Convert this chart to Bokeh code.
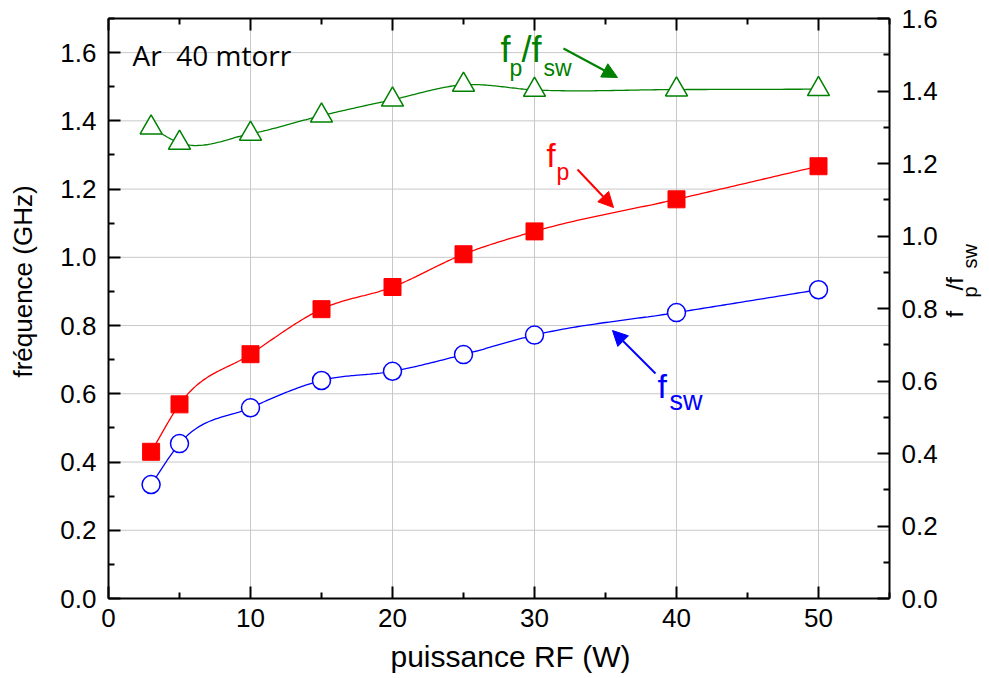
import numpy as np
from math import pi
from bokeh.plotting import figure
from bokeh.models import (Range1d, LinearAxis, FixedTicker, PrintfTickFormatter,
                          CustomJSTickFormatter, Label, Arrow, NormalHead)
from bokeh.embed import file_html
from bokeh.resources import INLINE

# ---- data ----
power = [3, 5, 10, 15, 20, 25, 30, 40, 50]
f_p = [0.430, 0.569, 0.716, 0.848, 0.913, 1.009, 1.076, 1.170, 1.267]
f_sw = [0.334, 0.454, 0.559, 0.639, 0.666, 0.715, 0.772, 0.838, 0.905]
ratio = [1.299, 1.257, 1.282, 1.332, 1.376, 1.417, 1.403, 1.404, 1.405]

x_ticks = [0, 10, 20, 30, 40, 50]
x_minor = [5, 15, 25, 35, 45, 55]
y_ticks = [0.0, 0.2, 0.4, 0.6, 0.8, 1.0, 1.2, 1.4, 1.6]
y_minor = [0.1, 0.3, 0.5, 0.7, 0.9, 1.1, 1.3, 1.5, 1.7]
r_ticks = [0.0, 0.2, 0.4, 0.6, 0.8, 1.0, 1.2, 1.4, 1.6]
r_minor = [0.1, 0.3, 0.5, 0.7, 0.9, 1.1, 1.3, 1.5]

X_MAX, Y_MAX, R_MAX = 55, 1.7, 1.6

x_label = "puissance RF (W)"
y_label = "fréquence (GHz)"
note = "Ar  40 mtorr"

RED, BLUE, GREEN = "#ff0000", "#0000ff", "#008000"
FONT = "Liberation Sans"
GRID = "#c8c8c8"

# ---- layout (pixels) ----
W, H = 985, 674
X0PX, X1PX = 108, 889   # x = 0 and x = X_MAX
Y0PX, Y1PX = 598, 18    # y = 0 and y = Y_MAX
sx = (X1PX - X0PX) / X_MAX
sy = (Y0PX - Y1PX) / Y_MAX
sr = (Y0PX - Y1PX) / R_MAX


def X(px):
    return (px - X0PX) / sx


def Y(py):
    return (Y0PX - py) / sy


def smooth(x, y, n=40):
    """Cubic Hermite curve through the points (tangents from neighbouring secants)."""
    x = np.asarray(x, float)
    y = np.asarray(y, float)
    h = np.diff(x)
    s = np.diff(y) / h
    m = np.empty_like(y)
    m[0], m[-1] = s[0], s[-1]
    m[1:-1] = (s[:-1] * h[1:] + s[1:] * h[:-1]) / (h[:-1] + h[1:])
    xs_all, ys_all = [], []
    for i in range(len(x) - 1):
        t = np.linspace(0, 1, n, endpoint=(i == len(x) - 2))
        h00 = 2 * t ** 3 - 3 * t ** 2 + 1
        h10 = t ** 3 - 2 * t ** 2 + t
        h01 = -2 * t ** 3 + 3 * t ** 2
        h11 = t ** 3 - t ** 2
        xs_all.append(x[i] + t * h[i])
        ys_all.append(h00 * y[i] + h10 * h[i] * m[i] + h01 * y[i + 1] + h11 * h[i] * m[i + 1])
    return np.concatenate(xs_all), np.concatenate(ys_all)


p = figure(width=W, height=H,
           x_range=Range1d(-X0PX / sx, (W - X0PX) / sx),
           y_range=Range1d(-(H - Y0PX) / sy, Y0PX / sy),
           output_backend="svg", toolbar_location=None,
           x_axis_type=None, y_axis_type=None, min_border=0)
p.extra_y_ranges = {"ratio": Range1d(-(H - Y0PX) / sr, Y0PX / sr)}
p.outline_line_color = None
p.background_fill_color = "white"
p.border_fill_color = "white"
p.xgrid.visible = False
p.ygrid.visible = False


def style(ax, size="26px"):
    ax.axis_line_width = 2
    ax.axis_line_color = "black"
    ax.major_tick_line_width = 2
    ax.minor_tick_line_width = 2
    ax.major_tick_in = 12
    ax.major_tick_out = 0
    ax.minor_tick_in = 6
    ax.minor_tick_out = 0
    ax.major_label_text_font = FONT
    ax.major_label_text_font_size = size
    ax.major_label_text_color = "black"


bottom = LinearAxis(ticker=FixedTicker(ticks=x_ticks, minor_ticks=x_minor),
                    fixed_location=0, bounds=(0, X_MAX))
style(bottom)
bottom.major_label_standoff = 10
p.add_layout(bottom, "below")

top = LinearAxis(ticker=FixedTicker(ticks=x_ticks, minor_ticks=x_minor),
                 formatter=CustomJSTickFormatter(code="return ''"),
                 fixed_location=Y_MAX, bounds=(0, X_MAX))
style(top, "8px")
top.major_label_standoff = 0
p.add_layout(top, "above")

left = LinearAxis(ticker=FixedTicker(ticks=y_ticks, minor_ticks=y_minor),
                  formatter=PrintfTickFormatter(format="%.1f"),
                  fixed_location=0, bounds=(0, Y_MAX))
style(left)
left.major_label_standoff = 12
p.add_layout(left, "left")

right = LinearAxis(ticker=FixedTicker(ticks=r_ticks, minor_ticks=r_minor), y_range_name="ratio",
                   formatter=PrintfTickFormatter(format="%.1f"),
                   fixed_location=X_MAX, bounds=(0, R_MAX))
style(right)
right.major_label_standoff = 12
p.add_layout(right, "right")

# grid lines inside the plot area
gx = [t for t in x_ticks if 0 < t < X_MAX]
gy = [t for t in y_ticks if 0 < t < Y_MAX]
p.segment(x0=gx, y0=[0] * len(gx), x1=gx, y1=[Y_MAX] * len(gx),
          line_color=GRID, line_width=1, level="underlay")
p.segment(x0=[0] * len(gy), y0=gy, x1=[X_MAX] * len(gy), y1=gy,
          line_color=GRID, line_width=1, level="underlay")

# curves
xs, ys = smooth(power, f_p)
p.line(xs, ys, line_color=RED, line_width=1.3)
xs, ys = smooth(power, f_sw)
p.line(xs, ys, line_color=BLUE, line_width=1.3)
xs, ys = smooth(power, ratio)
p.line(xs, ys, line_color=GREEN, line_width=1.3, y_range_name="ratio")

# markers
p.scatter(power, f_p, marker="square", size=17, fill_color=RED, line_color=RED)
p.scatter(power, f_sw, marker="circle", size=18, fill_color="white", line_color=BLUE, line_width=1.5)
p.scatter(power, ratio, marker="triangle", size=22, fill_color="white", line_color=GREEN,
          line_width=1.5, y_range_name="ratio")


def lab(px, py, text, color="black", size=26, angle=0, align="left", font=FONT, k=0.35):
    """px, py: baseline position in pixels; anchored at the text middle."""
    if angle == 0:
        ay = py - k * size
        ax_ = px
    else:
        ay = py
        ax_ = px - k * size
    p.add_layout(Label(x=X(ax_), y=Y(ay), text=text, text_color=color, text_font=font,
                       text_font_size=f"{size}px", angle=angle, text_align=align,
                       text_baseline="middle"))


# axis titles
lab(510, 666, x_label, size=30, align="center")
lab(32, 281, y_label, size=26, angle=pi / 2, align="center")
lab(962, 317, "f", size=24, angle=pi / 2)
lab(976, 297, "p", size=20, angle=pi / 2)
lab(962, 290, "/f", size=24, angle=pi / 2)
lab(976, 268, "sw", size=20, angle=pi / 2)

# annotation
lab(132, 65, note.replace("  ", "\u00a0 "), size=28, font="Open Sans", k=0.39)

# fp/fsw
lab(500, 62, "f", GREEN, 36)
lab(509, 76, "p", GREEN, 23)
lab(521, 62, "/f", GREEN, 36)
lab(543, 76, "sw", GREEN, 23)
# fp
lab(546, 167, "f", RED, 33)
lab(556, 180, "p", RED, 23)
# fsw
lab(657, 397, "f", BLUE, 34)
lab(669, 410, "sw", BLUE, 27)

for (x0, y0, x1, y1, c) in [(563, 48, 617, 77, GREEN),
                            (577, 169, 613, 207, RED),
                            (655, 373, 612, 330, BLUE)]:
    p.add_layout(Arrow(end=NormalHead(size=15, fill_color=c, line_color=c),
                       x_start=X(x0), y_start=Y(y0), x_end=X(x1), y_end=Y(y1),
                       line_color=c, line_width=2))

open("out.html", "w").write(file_html(p, INLINE))
